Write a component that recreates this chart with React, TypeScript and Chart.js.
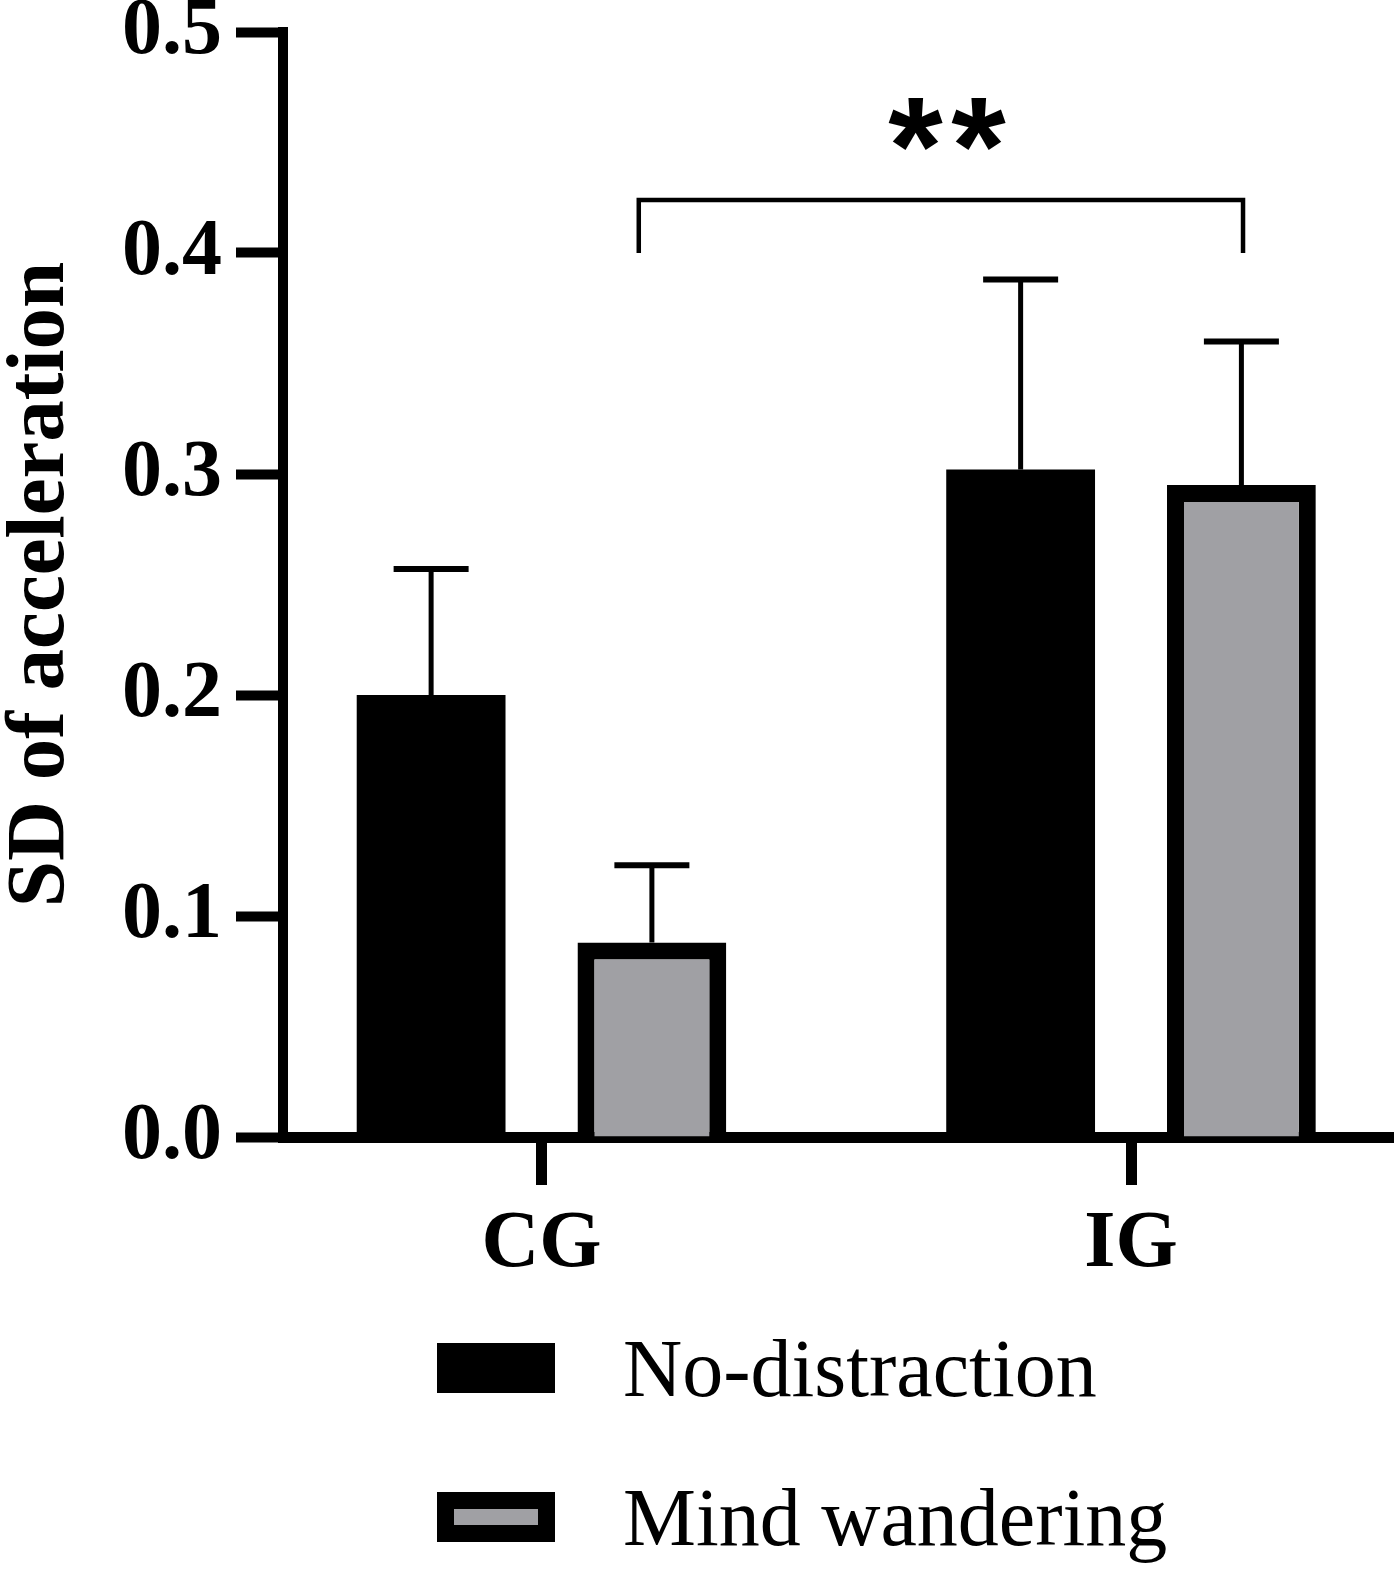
import { useEffect, useRef } from "react";
import { Chart, registerables } from "chart.js";

Chart.register(...registerables);

// values
const categories = ["CG", "IG"];
const seriesNames = ["No-distraction", "Mind wandering"];
const noDistraction = [0.2, 0.302];
const noDistractionErr = [0.057, 0.086];
const mindWandering = [0.088, 0.295];
const mindWanderingErr = [0.035, 0.065];
const yTicks = [0, 0.1, 0.2, 0.3, 0.4, 0.5];
const sigFrom = 1.165;
const sigTo = 2.19;
const sigTop = 0.424;
const sigBottom = 0.4;
const sigLabel = "**";

const SERIF = "'Liberation Serif', 'Times New Roman', Times, serif";
const GREY = "#a0a0a4";

const errorBars = {
  id: "errorBars",
  afterDatasetsDraw(chart: any) {
    const { ctx } = chart;
    const y = chart.scales.y;
    ctx.save();
    ctx.strokeStyle = "#000";
    chart.data.datasets.forEach((ds: any, i: number) => {
      const meta = chart.getDatasetMeta(i);
      meta.data.forEach((bar: any, j: number) => {
        const top = y.getPixelForValue(ds.data[j].y + ds.errors[j]);
        ctx.lineWidth = 5;
        ctx.beginPath();
        ctx.moveTo(bar.x, bar.y);
        ctx.lineTo(bar.x, top);
        ctx.stroke();
        ctx.lineWidth = 6;
        ctx.beginPath();
        ctx.moveTo(bar.x - 37.5, top);
        ctx.lineTo(bar.x + 37.5, top);
        ctx.stroke();
      });
    });
    ctx.restore();
  },
};

const annotations = {
  id: "annotations",
  afterDraw(chart: any) {
    const { ctx, chartArea } = chart;
    const x = chart.scales.x;
    const y = chart.scales.y;
    ctx.save();

    // significance bracket
    const x1 = x.getPixelForValue(sigFrom);
    const x2 = x.getPixelForValue(sigTo);
    const yt = y.getPixelForValue(sigTop);
    const yb = y.getPixelForValue(sigBottom);
    ctx.strokeStyle = "#000";
    ctx.lineWidth = 4.5;
    ctx.lineJoin = "miter";
    ctx.beginPath();
    ctx.moveTo(x1, yb);
    ctx.lineTo(x1, yt);
    ctx.lineTo(x2, yt);
    ctx.lineTo(x2, yb);
    ctx.stroke();

    // stars, spaced apart like the original
    ctx.fillStyle = "#000";
    ctx.font = "bold 140px 'Liberation Sans', Arial, sans-serif";
    ctx.textAlign = "center";
    ctx.textBaseline = "alphabetic";
    const mid = (x1 + x2) / 2 + 6;
    const stars = sigLabel.split("");
    stars.forEach((s, k) => {
      const cx = mid + (k - (stars.length - 1) / 2) * 63;
      ctx.fillText(s, cx, yt - 6);
    });

    // legend
    const lx = 437;
    const bw = 118;
    const bh = 50;
    chart.data.datasets.forEach((ds: any, i: number) => {
      const by = chartArea.bottom + 206 + i * 149;
      ctx.fillStyle = ds.borderColor;
      ctx.fillRect(lx, by, bw, bh);
      const b = ds.borderWidth || 0;
      ctx.fillStyle = ds.backgroundColor;
      ctx.fillRect(lx + b, by + b, bw - 2 * b, bh - 2 * b);
      ctx.fillStyle = "#000";
      ctx.font = `82px ${SERIF}`;
      ctx.textAlign = "left";
      ctx.textBaseline = "alphabetic";
      ctx.fillText(ds.label, 623, by + bh / 2 + 28);
    });
    ctx.restore();
  },
};

export default function App() {
  const canvasRef = useRef<HTMLCanvasElement | null>(null);

  useEffect(() => {
    document.body.style.margin = "0";
    if (!canvasRef.current) return;

    const chart = new Chart(canvasRef.current, {
      type: "bar",
      data: {
        datasets: [
          {
            label: seriesNames[0],
            data: categories.map((_, i) => ({ x: i + 1, y: noDistraction[i] })),
            errors: noDistractionErr,
            backgroundColor: "#000",
            borderColor: "#000",
            borderWidth: 0,
          },
          {
            label: seriesNames[1],
            data: categories.map((_, i) => ({ x: i + 1, y: mindWandering[i] })),
            errors: mindWanderingErr,
            backgroundColor: GREY,
            borderColor: "#000",
            borderWidth: 17,
            borderSkipped: "start",
          },
        ] as any,
      },
      options: {
        responsive: false,
        animation: false,
        events: [],
        categoryPercentage: 0.749,
        barPercentage: 0.674,
        layout: { padding: { top: 32, right: 7, left: 0, bottom: 0 } },
        plugins: {
          legend: { display: false },
          tooltip: { enabled: false },
        },
        scales: {
          x: {
            type: "linear",
            min: 0.5615,
            max: 2.4444,
            offset: false,
            z: 1,
            afterBuildTicks: (scale: any) => {
              scale.ticks = categories.map((_, i) => ({ value: i + 1 }));
            },
            afterFit: (scale: any) => {
              scale.height = 432;
              scale.paddingLeft = 0;
              scale.paddingRight = 0;
            },
            border: { display: true, color: "#000", width: 11 },
            grid: {
              offset: false,
              drawOnChartArea: false,
              drawTicks: true,
              tickLength: 48,
              tickWidth: 11,
              tickColor: "#000",
            },
            ticks: {
              autoSkip: false,
              maxRotation: 0,
              padding: 20,
              color: "#000",
              font: { family: SERIF, size: 80, weight: "bold", lineHeight: 1 },
              callback: (v: any) => categories[Number(v) - 1] ?? "",
            },
          },
          y: {
            min: 0,
            max: 0.5,
            z: 1,
            afterBuildTicks: (scale: any) => {
              scale.ticks = yTicks.map((v) => ({ value: v }));
            },
            afterFit: (scale: any) => {
              scale.width = 283;
              scale.paddingTop = 0;
              scale.paddingBottom = 0;
            },
            border: { display: true, color: "#000", width: 10 },
            grid: {
              drawOnChartArea: false,
              drawTicks: true,
              tickLength: 47,
              tickWidth: 10,
              tickColor: "#000",
            },
            ticks: {
              padding: 14,
              color: "#000",
              font: { family: SERIF, size: 80, weight: "bold", lineHeight: 1 },
              callback: (v: any) => Number(v).toFixed(1),
            },
            title: {
              display: true,
              text: "SD of acceleration",
              color: "#000",
              padding: 0,
              font: { family: SERIF, size: 83, weight: "bold", lineHeight: 1 },
            },
          },
        },
      } as any,
      plugins: [errorBars, annotations],
    });

    return () => chart.destroy();
  }, []);

  return (
    <div style={{ width: 1400, height: 1569, background: "#fff" }}>
      <canvas ref={canvasRef} width={1400} height={1569} style={{ display: "block" }} />
    </div>
  );
}
